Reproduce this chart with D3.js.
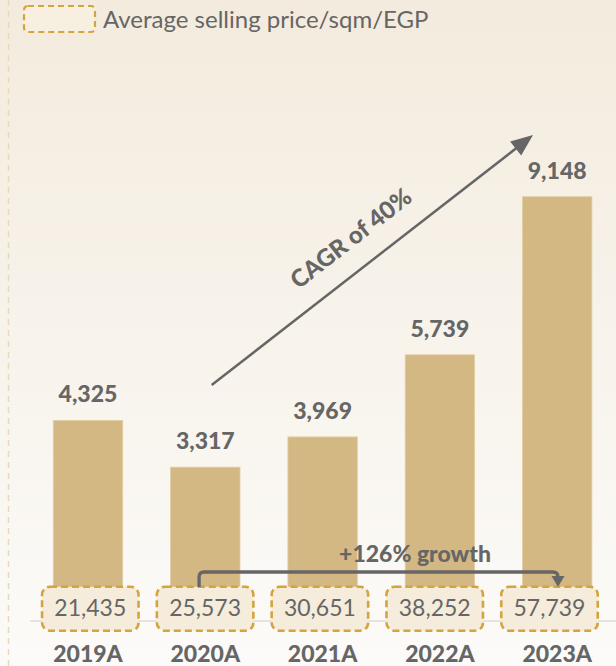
<!DOCTYPE html>
<html><head><meta charset="utf-8">
<script src="https://cdn.jsdelivr.net/npm/d3@7"></script>
<style>html,body{margin:0;padding:0;background:#fff;}svg{display:block;}</style>
</head><body><div id="chart"></div>
<script>
const categories = ["2019A","2020A","2021A","2022A","2023A"];
const unitsSold = [4325,3317,3969,5739,9148];
const pricePerSqm = [21435,25573,30651,38252,57739];
const legendLabel = "Average selling price/sqm/EGP";
const cagrLabel = "CAGR of 40%";
const growthLabel = "+126% growth";

const W=616,H=666;
const svg=d3.select("#chart").append("svg").attr("width",W).attr("height",H);
const defs=svg.append("defs");
const g=defs.append("linearGradient").attr("id","bg").attr("x1",0).attr("y1",0).attr("x2",0).attr("y2",1);
g.append("stop").attr("offset","0%").attr("stop-color","#f3ebdd");
g.append("stop").attr("offset","100%").attr("stop-color","#fcfbf9");
svg.append("rect").attr("width",W).attr("height",H).attr("fill","url(#bg)");

const font="Lato, 'Open Sans', sans-serif";
const txt="#666666";
const gold="#d4a43f";

// left dashed line
svg.append("line").attr("x1",8.5).attr("x2",8.5).attr("y1",0).attr("y2",H)
  .attr("stroke","#e8d9bd").attr("stroke-width",1.5).attr("stroke-dasharray","6,5");

const x=d3.scaleBand().domain(categories).range([29.35,615.85]).paddingInner(0.4084).paddingOuter(0.2042);
const baseY=621;
const y=d3.scaleLinear().domain([0,9148]).range([baseY,196.7]);

// axis line
svg.append("line").attr("x1",30).attr("x2",W).attr("y1",baseY).attr("y2",baseY)
  .attr("stroke","#e0ddd8").attr("stroke-width",1.5);

svg.selectAll("rect.bar").data(unitsSold).join("rect").attr("class","bar")
  .attr("x",(d,i)=>x(categories[i])).attr("width",x.bandwidth())
  .attr("y",d=>y(d)).attr("height",d=>baseY-y(d))
  .attr("fill","#d4b883").attr("stroke","#e2cda4").attr("stroke-width",0.8);

svg.selectAll("text.val").data(unitsSold).join("text").attr("class","val")
  .attr("x",(d,i)=>x(categories[i])+x.bandwidth()/2).attr("y",d=>y(d)-18)
  .attr("text-anchor","middle").attr("font-family",font).attr("font-weight",900)
  .attr("font-size",23).attr("fill",txt).text(d=>d3.format(",")(d));

// price boxes
const bx=d3.scalePoint().domain(categories).range([90.3,549.5]);
const bw=96.5,bh=44,by=586.7;
svg.selectAll("rect.box").data(pricePerSqm).join("rect").attr("class","box")
  .attr("x",(d,i)=>bx(categories[i])-bw/2).attr("y",by).attr("width",bw).attr("height",bh)
  .attr("rx",8).attr("fill","#f5ecdc").attr("stroke",gold).attr("stroke-width",2.6)
  .attr("stroke-dasharray","7,4");
svg.selectAll("text.box").data(pricePerSqm).join("text").attr("class","box")
  .attr("x",(d,i)=>bx(categories[i])).attr("y",616)
  .attr("text-anchor","middle").attr("font-family",font).attr("font-size",23)
  .attr("fill",txt).text(d=>d3.format(",")(d));

// category labels
svg.selectAll("text.cat").data(categories).join("text").attr("class","cat")
  .attr("x",d=>x(d)+x.bandwidth()/2).attr("y",662)
  .attr("text-anchor","middle").attr("font-family",font).attr("font-weight",900)
  .attr("font-size",23).attr("fill",txt).text(d=>d);

// legend
svg.append("rect").attr("x",24).attr("y",6).attr("width",71).attr("height",26).attr("rx",4)
  .attr("fill","#f7efdf").attr("stroke",gold).attr("stroke-width",2.2).attr("stroke-dasharray","6,4");
svg.append("text").attr("x",103).attr("y",28).attr("font-family",font).attr("font-size",24)
  .attr("fill",txt).text(legendLabel);

// CAGR arrow
const ax1=211.7,ay1=385,ax2=533,ay2=135;
svg.append("line").attr("x1",ax1).attr("y1",ay1).attr("x2",ax2-12).attr("y2",ay2+9.5)
  .attr("stroke","#666").attr("stroke-width",2.5);
const ang=Math.atan2(ay2-ay1,ax2-ax1);
const hl=22,hw=9;
const hx=ax2-hl*Math.cos(ang),hy=ay2-hl*Math.sin(ang);
svg.append("path").attr("d",`M${ax2},${ay2}L${hx+hw*Math.sin(ang)},${hy-hw*Math.cos(ang)}L${hx-hw*Math.sin(ang)},${hy+hw*Math.cos(ang)}Z`).attr("fill","#666");
svg.append("text").attr("transform",`translate(356,245) rotate(${ang*180/Math.PI})`)
  .attr("text-anchor","middle").attr("font-family",font).attr("font-weight",900)
  .attr("font-size",24).attr("fill",txt).text(cagrLabel);

// growth bracket
const gx1=bx(categories[1])-6, gx2=558, gy=572;
svg.append("path").attr("d",`M${gx1},587V${gy+5}Q${gx1},${gy} ${gx1+5},${gy}H${gx2-5}Q${gx2},${gy} ${gx2},${gy+5}V576`)
  .attr("fill","none").attr("stroke","#666").attr("stroke-width",3.3);
svg.append("path").attr("d",`M${gx2-6.5},576L${gx2+6.5},576L${gx2},587Z`).attr("fill","#666");
svg.append("text").attr("x",415).attr("y",562).attr("text-anchor","middle")
  .attr("font-family",font).attr("font-weight",900).attr("font-size",23).attr("fill",txt).text(growthLabel);
</script></body></html>
